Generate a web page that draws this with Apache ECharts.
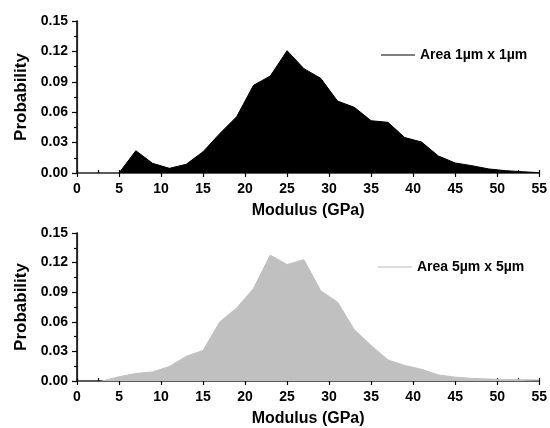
<!DOCTYPE html>
<html><head><meta charset="utf-8">
<script src="https://cdn.jsdelivr.net/npm/echarts@6/dist/echarts.min.js"></script>
<style>html,body{margin:0;padding:0;background:#fff}#c{width:550px;height:428px}</style>
</head><body><div id="c"></div>
<script>
// Data
const xTop = [5,7,9,11,13,15,17,19,21,23,25,27,29,31,33,35,37,39,41,43,45,47,49,51,53,55];
const yTop = [0.000,0.022,0.0095,0.0046,0.0086,0.021,0.039,0.0556,0.0865,0.0957,0.1207,0.103,0.0934,0.071,0.0648,0.0516,0.050,0.035,0.0306,0.0168,0.0099,0.0072,0.004,0.0023,0.0013,0.0003];
const xBot = [3,5,7,9,11,13,15,17,19,21,23,25,27,29,31,33,35,37,39,41,43,45,47,49,51,53,55];
const yBot = [0.000,0.0043,0.0076,0.0092,0.0148,0.025,0.031,0.060,0.074,0.0938,0.1276,0.118,0.123,0.0915,0.080,0.052,0.036,0.0214,0.0158,0.0118,0.0062,0.0039,0.0026,0.002,0.0016,0.0013,0.001];
const nameTop = 'Area 1µm x 1µm';
const nameBot = 'Area 5µm x 5µm';
const xTicks = [0,5,10,15,20,25,30,35,40,45,50,55];
const yTicks = [0.00,0.03,0.06,0.09,0.12,0.15];

const FONT = '"Liberation Sans", Arial, sans-serif';
const chart = echarts.init(document.getElementById('c'), null, {renderer:'canvas'});
const grids = [
  {left:77, right:7, top:21, height:152},
  {left:77, right:7, top:233, height:152}
];
function xAxes(gi){
  return [
    {type:'value', gridIndex:gi, min:0, max:55, interval:5, position:'bottom',
     name:'Modulus (GPa)', nameLocation:'middle', nameGap:30,
     nameTextStyle:{fontFamily:FONT, fontWeight:'bold', fontSize:16, color:'#000'},
     axisLine:{show:true, onZero:false, lineStyle:{color:'#000', width:1.5}},
     axisTick:{show:true, length:4, lineStyle:{color:'#000', width:1.2}},
     axisLabel:{margin:9, fontFamily:FONT, fontWeight:'bold', fontSize:14, color:'#000'},
     splitLine:{show:false}},
    {type:'value', gridIndex:gi, min:0, max:55, interval:2.5, position:'bottom',
     axisLine:{show:false}, axisLabel:{show:false}, splitLine:{show:false},
     axisTick:{show:true, inside:true, length:3, lineStyle:{color:'#000', width:1.2}}},
    {type:'value', gridIndex:gi, min:0, max:55, position:'top',
     axisLine:{show:true, lineStyle:{color:'#666', width:1.5}},
     axisTick:{show:false}, axisLabel:{show:false}, splitLine:{show:false}}
  ];
}
function yAxes(gi){
  return [
    {type:'value', gridIndex:gi, min:0, max:0.15, interval:0.03, position:'left',
     name:'Probability', nameLocation:'middle', nameGap:47,
     nameTextStyle:{fontFamily:FONT, fontWeight:'bold', fontSize:17, color:'#000'},
     axisLine:{show:true, onZero:false, lineStyle:{color:'#000', width:1.5}},
     axisTick:{show:true, length:5, lineStyle:{color:'#000', width:1.2}},
     minorTick:{show:true, splitNumber:2, length:3, lineStyle:{color:'#000', width:1.2}},
     axisLabel:{margin:9, fontFamily:FONT, fontWeight:'bold', fontSize:14, color:'#000',
       formatter:v=>v.toFixed(2)},
     splitLine:{show:false}},
    {type:'value', gridIndex:gi, min:0, max:0.15, position:'right',
     axisLine:{show:true, lineStyle:{color:'#222', width:1.2}},
     axisTick:{show:false}, axisLabel:{show:false}, splitLine:{show:false}}
  ];
}
const xa = [...xAxes(0), ...xAxes(1)];
const ya = [...yAxes(0), ...yAxes(1)];
function mk(xs, ys){ return xs.map((x,i)=>[x, ys[i]]); }
const option = {
  animation:false,
  backgroundColor:'#fff',
  grid: grids,
  xAxis: xa,
  yAxis: ya,
  legend: [
    {data:[{name:nameTop, icon:'rect', itemStyle:{color:'#555'}}], left:376, top:43,
     itemWidth:34, itemHeight:1.5, itemGap:6,
     textStyle:{fontFamily:FONT, fontWeight:'bold', fontSize:14, color:'#000'}},
    {data:[{name:nameBot, icon:'rect', itemStyle:{color:'#d0d0d0'}}], left:373, top:255,
     itemWidth:34, itemHeight:1.5, itemGap:6,
     textStyle:{fontFamily:FONT, fontWeight:'bold', fontSize:14, color:'#000'}}
  ],
  series: [
    {type:'line', name:nameTop, xAxisIndex:0, yAxisIndex:0, data:mk(xTop,yTop),
     showSymbol:false, symbol:'none', lineStyle:{color:'#000', width:1}, itemStyle:{color:'#000'},
     areaStyle:{color:'#000', opacity:1}, z:1},
    {type:'line', name:nameBot, xAxisIndex:3, yAxisIndex:2, data:mk(xBot,yBot),
     showSymbol:false, symbol:'none', lineStyle:{color:'#c0c0c0', width:1}, itemStyle:{color:'#c0c0c0'},
     areaStyle:{color:'#c0c0c0', opacity:1}, z:1}
  ]
};
chart.setOption(option);
</script></body></html>
